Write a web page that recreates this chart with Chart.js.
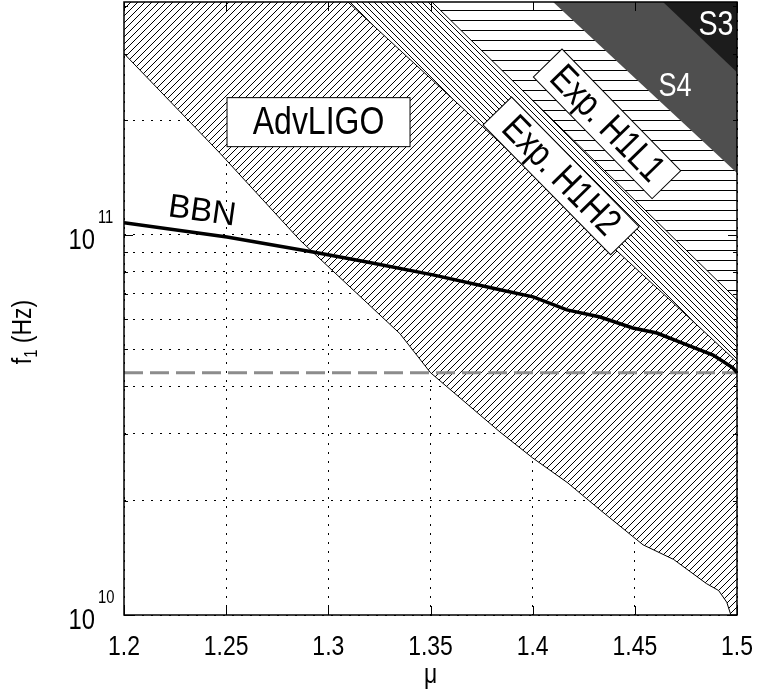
<!DOCTYPE html>
<html>
<head>
<meta charset="utf-8">
<script src="https://cdn.jsdelivr.net/npm/chart.js@4.4.0/dist/chart.umd.min.js"></script>
<style>
  html, body { margin: 0; padding: 0; background: #fff; }
  canvas { display: block; }
</style>
</head>
<body>
<canvas id="chart" width="757" height="696"></canvas>
<script>
// axes
const muTicks = [1.2, 1.25, 1.3, 1.35, 1.4, 1.45, 1.5];
const muLabels = ['1.2', '1.25', '1.3', '1.35', '1.4', '1.45', '1.5'];
const fTicks = [1e10, 2e10, 3e10, 4e10, 5e10, 6e10, 7e10, 8e10, 9e10, 1e11, 2e11, 3e11, 4e11];
const fDecades = [1e10, 1e11];
const fMin = 1e10;
const fMax = 4.1e11;

// AdvLIGO reach (hatched above this curve)
const advMu = [1.2, 1.247, 1.286, 1.319, 1.335, 1.35, 1.384, 1.4, 1.417, 1.433, 1.454, 1.469, 1.485, 1.491, 1.495, 1.497, 1.5];
const advF = [3.0e11, 1.64e11, 9.7e10, 6.62e10, 5.5e10, 4.34e10, 3.03e10, 2.59e10, 2.23e10, 1.89e10, 1.53e10, 1.40e10, 1.21e10, 1.16e10, 1.08e10, 1.0e10, 1.0e10];

// experimental / run limits (straight edges, region above)
const h1h2Mu = [1.3096, 1.5];
const h1h2F = [4.1e11, 4.63e10];
const h1l1Mu = [1.3507, 1.5];
const h1l1F = [4.1e11, 6.75e10];
const s4Mu = [1.410, 1.5];
const s4F = [4.1e11, 1.455e11];
const s3Mu = [1.4638, 1.5];
const s3F = [4.1e11, 2.68e11];

// BBN bound
const bbnMu = [1.2, 1.2504, 1.2925, 1.3189, 1.3512, 1.384, 1.4002, 1.4168, 1.433, 1.449, 1.4608, 1.4755, 1.4883, 1.498, 1.5];
const bbnF = [1.076e11, 9.88e10, 9.02e10, 8.49e10, 7.85e10, 7.17e10, 6.87e10, 6.35e10, 6.08e10, 5.69e10, 5.52e10, 5.14e10, 4.83e10, 4.47e10, 4.34e10];
const bbnLevel = 4.34e10;

const FONT = "'Liberation Sans', Arial, sans-serif";
const SQUEEZE = 0.82;  // narrow glyphs

const canvas = document.getElementById('chart');
const ctx = canvas.getContext('2d');

function hatch(period, draw) {
  const tile = document.createElement('canvas');
  tile.width = tile.height = period;
  const g = tile.getContext('2d');
  g.fillStyle = '#fff';
  g.fillRect(0, 0, period, period);
  g.fillStyle = '#000';
  draw(g, period);
  return ctx.createPattern(tile, 'repeat');
}
const slashHatch = hatch(7, (g, p) => { for (let i = 0; i < p; i++) g.fillRect(i, p - 1 - i, 1, 1); });
const backHatch = hatch(6, (g, p) => { for (let i = 0; i < p; i++) g.fillRect(i, i, 1, 1); });
const rowHatch = hatch(10, (g, p) => g.fillRect(0, 0, p, 1));

const toXY = (xs, ys) => xs.map((x, i) => ({ x, y: ys[i] }));

function region(label, xs, ys, fillStyle, border, order) {
  return {
    label, data: toXY(xs, ys), fill: 'end', backgroundColor: fillStyle,
    borderColor: '#000', borderWidth: border, pointRadius: 0, order
  };
}

// narrow text at (x, y) in the current transform
function say(c, str, x, y, size, align, baseline) {
  c.save();
  c.translate(x, y);
  c.scale(SQUEEZE, 1);
  c.font = size + 'px ' + FONT;
  c.textAlign = align || 'center';
  c.textBaseline = baseline || 'alphabetic';
  c.fillText(str, 0, 0);
  c.restore();
}

// labels, box, inward ticks
const frame = {
  id: 'frame',
  afterDraw(chart) {
    const { ctx: c, chartArea: a, scales: { x, y } } = chart;
    c.save();
    c.strokeStyle = '#000';
    c.lineWidth = 1.5;
    c.strokeRect(a.left, a.top, a.right - a.left, a.bottom - a.top);
    c.lineWidth = 1;
    c.beginPath();
    muTicks.forEach(v => {
      const px = Math.round(x.getPixelForValue(v)) + 0.5;
      c.moveTo(px, a.bottom); c.lineTo(px, a.bottom - 9);
      c.moveTo(px, a.top); c.lineTo(px, a.top + 9);
    });
    fTicks.forEach(v => {
      const py = Math.round(y.getPixelForValue(v)) + 0.5;
      const len = fDecades.includes(v) ? 9 : 4;
      c.moveTo(a.left, py); c.lineTo(a.left + len, py);
      c.moveTo(a.right, py); c.lineTo(a.right - len, py);
    });
    c.stroke();

    c.fillStyle = '#000';
    muTicks.forEach((v, i) => say(c, muLabels[i], x.getPixelForValue(v), a.bottom + 40, 28));

    fDecades.forEach(v => {
      const py = y.getPixelForValue(v);
      say(c, '10', 95, py + 14, 29, 'right');
      say(c, String(Math.round(Math.log10(v))), 98, py - 12, 18, 'left');
    });

    say(c, '\u03bc', (a.left + a.right) / 2, 683, 28);

    // f_1 (Hz), rotated
    c.save();
    c.translate(31, 332);
    c.rotate(-Math.PI / 2);
    c.font = '28px ' + FONT; const wf = c.measureText('f').width * SQUEEZE; const wh = c.measureText(' (Hz)').width * SQUEEZE;
    c.font = '18px ' + FONT; const w1 = c.measureText('1').width * SQUEEZE;
    let sx = -(wf + w1 + wh) / 2;
    say(c, 'f', sx, 0, 28, 'left'); sx += wf;
    say(c, '1', sx, 6, 18, 'left'); sx += w1;
    say(c, ' (Hz)', sx, 0, 28, 'left');
    c.restore();

    // BBN tag along the curve
    c.save();
    c.translate(x.getPixelForValue(1.2382), y.getPixelForValue(1.15e11));
    c.rotate(8 * Math.PI / 180);
    c.font = '33px ' + FONT;
    c.textAlign = 'center';
    c.textBaseline = 'middle';
    c.fillText('BBN', 0, 0);
    c.restore();

    const boxed = (text, mu, f, angle, w, h, size) => {
      c.save();
      c.translate(x.getPixelForValue(mu), y.getPixelForValue(f));
      c.rotate(angle * Math.PI / 180);
      c.fillStyle = '#fff';
      c.fillRect(-w / 2, -h / 2, w, h);
      c.strokeStyle = '#000';
      c.lineWidth = 1;
      c.strokeRect(-w / 2, -h / 2, w, h);
      c.fillStyle = '#000';
      say(c, text, 0, 1, size, 'center', 'middle');
      c.restore();
    };
    boxed('AdvLIGO', 1.2952, 1.98e11, 0, 183, 49, 39);
    boxed('Exp. H1L1', 1.4364, 1.96e11, 45.7, 170, 40, 38);
    boxed('Exp. H1H2', 1.4139, 1.43e11, 45.5, 182, 40, 38);

    c.fillStyle = '#fff';
    say(c, 'S4', x.getPixelForValue(1.4697), y.getPixelForValue(2.45e11), 33, 'center', 'middle');
    say(c, 'S3', x.getPixelForValue(1.4897), y.getPixelForValue(3.55e11), 35, 'center', 'middle');
    c.restore();
  }
};

new Chart(ctx, {
  type: 'line',
  data: {
    datasets: [
      { label: 'BBN', data: toXY(bbnMu, bbnF), borderColor: '#000', borderWidth: 3.5, pointRadius: 0, fill: false, order: 0 },
      { label: 'BBN level', data: toXY([1.2, 1.5], [bbnLevel, bbnLevel]), borderColor: '#8c8c8c', borderWidth: 3, borderDash: [19, 7], pointRadius: 0, fill: false, order: 1 },
      region('S3', s3Mu, s3F, '#1c1c1c', 0, 2),
      region('S4', s4Mu, s4F, '#4f4f4f', 0, 3),
      region('Exp. H1L1', h1l1Mu, h1l1F, rowHatch, 1, 4),
      region('Exp. H1H2', h1h2Mu, h1h2F, backHatch, 1, 5),
      region('AdvLIGO', advMu, advF, slashHatch, 1, 6)
    ]
  },
  options: {
    responsive: false,
    animation: false,
    layout: { padding: { left: 124, right: 20, top: 2, bottom: 81 } },
    plugins: { legend: { display: false }, tooltip: { enabled: false } },
    scales: {
      x: {
        type: 'linear', min: 1.2, max: 1.5, z: 1,
        afterBuildTicks: s => { s.ticks = muTicks.map(v => ({ value: v })); },
        afterFit: s => { s.height = 0; },
        ticks: { display: false },
        grid: { color: '#000', lineWidth: 1, drawTicks: false },
        border: { display: false, dash: [2, 7] }
      },
      y: {
        type: 'logarithmic', min: fMin, max: fMax, z: 1,
        afterBuildTicks: s => { s.ticks = fTicks.map(v => ({ value: v })); },
        afterFit: s => { s.width = 0; },
        ticks: { display: false },
        grid: { color: '#000', lineWidth: 1, drawTicks: false },
        border: { display: false, dash: [2, 7] }
      }
    }
  },
  plugins: [frame]
});
</script>
</body>
</html>
